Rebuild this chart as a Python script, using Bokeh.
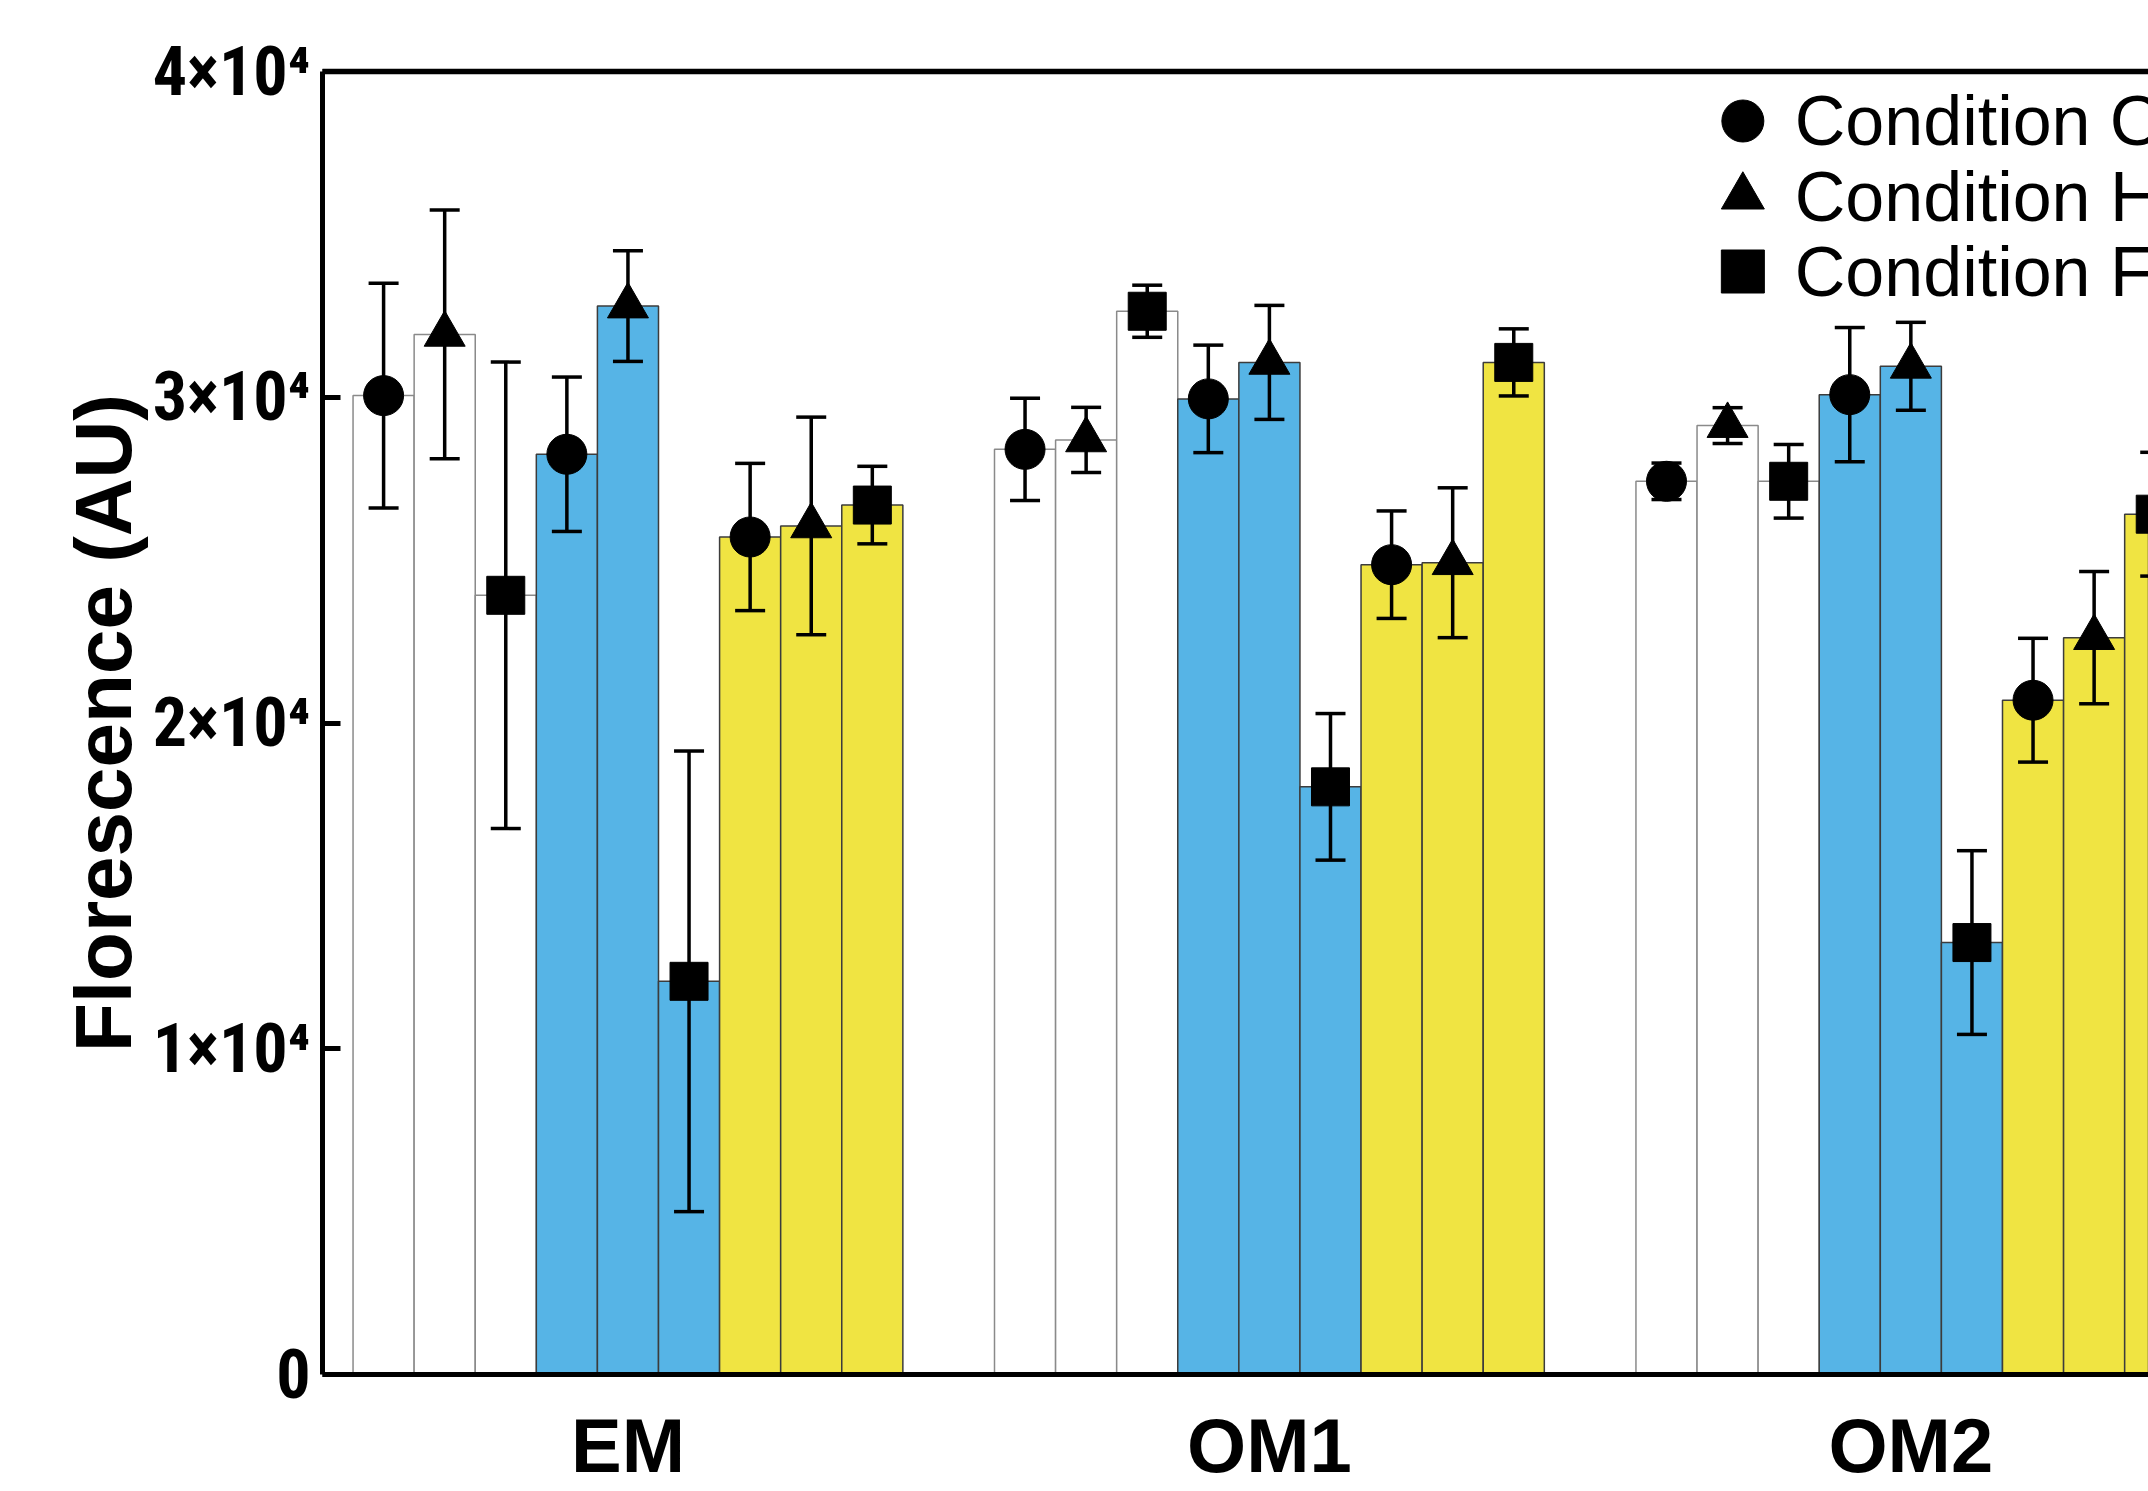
from bokeh.plotting import figure
from bokeh.models import Range1d, FixedTicker, LinearAxis, ColumnDataSource
from bokeh.core.properties import value
from bokeh.embed import file_html
from bokeh.resources import INLINE

# ---------------- data ----------------
groups = ["EM", "OM1", "OM2"]
conditions = ["Condition O", "Condition H", "Condition F"]
condition_markers = ["circle", "triangle", "square"]

# bars in each group: white (O, H, F), blue (O, H, F), yellow (O, H, F)
em_mean = [30050, 31930, 23920, 28250, 32800, 12070, 25710, 26050, 26690]
em_err = [3450, 3820, 7160, 2370, 1700, 7070, 2260, 3340, 1190]
om1_mean = [28400, 28690, 32640, 29950, 31070, 18040, 24860, 24920, 31070]
om1_err = [1570, 1000, 800, 1650, 1750, 2250, 1650, 2300, 1030]
om2_mean = [27420, 29130, 27420, 30080, 30950, 13260, 20700, 22620, 26410]
om2_err = [560, 550, 1130, 2060, 1350, 2820, 1900, 2030, 1900]

y_ticks = [0, 10000, 20000, 30000, 40000]
y_tick_labels = ["0", "1×10⁴", "2×10⁴", "3×10⁴", "4×10⁴"]

# ---------------- styles ----------------
fill_colors = ["#FFFFFF", "#56B4E6", "#F0E442"]
line_colors = ["#8A8A8A", "#3C3C3C", "#3C3C3C"]
marker_sizes = [40, 41, 38]
legend_sizes = [42, 43, 43]
GROUP_STEP = 10.5
X_END = 29.89

means = [em_mean, om1_mean, om2_mean]
errs = [em_err, om1_err, om2_err]

xs, tops, uppers, lowers, fills, lines, mks, msz = [], [], [], [], [], [], [], []
for g in range(len(groups)):
    for t in range(3):
        for c in range(3):
            k = t * 3 + c
            xs.append(1 + g * GROUP_STEP + k)
            m = means[g][k]
            e = errs[g][k]
            tops.append(m)
            uppers.append(m + e)
            lowers.append(m - e)
            fills.append(fill_colors[t])
            lines.append(line_colors[t])
            mks.append(condition_markers[c])
            msz.append(marker_sizes[c])

src = ColumnDataSource(dict(x=xs, top=tops, upper=uppers, lower=lowers,
                            fill=fills, line=lines, marker=mks, size=msz))

group_centers = [1 + g * GROUP_STEP + 4 for g in range(len(groups))]

p = figure(width=2148, height=1491, x_range=Range1d(0, X_END), y_range=Range1d(0, 40000),
           output_backend="svg", toolbar_location=None,
           min_border_left=322, min_border_top=71, min_border_bottom=117, min_border_right=0)
p.grid.visible = False
p.outline_line_color = None
p.background_fill_color = "white"
p.border_fill_color = "white"

p.vbar(x="x", top="top", bottom=0, width=1.0, fill_color="fill", line_color="line",
       line_width=1.5, source=src)
p.segment(x0="x", y0="lower", x1="x", y1="upper", line_color="black", line_width=3.5, source=src)
p.scatter(x="x", y="upper", marker="dash", size=30, line_color="black", line_width=3.5, source=src)
p.scatter(x="x", y="lower", marker="dash", size=30, line_color="black", line_width=3.5, source=src)
p.scatter(x="x", y="top", marker="marker", size="size", fill_color="black", line_color="black",
          source=src)

# legend (manual)
leg = ColumnDataSource(dict(x=[23.25] * 3, y=[38480, 36160, 33860], marker=condition_markers,
                            size=legend_sizes, label=conditions, tx=[24.1] * 3))
p.scatter(x="x", y="y", marker="marker", size="size", fill_color="black", line_color="black", source=leg)
p.text(x="tx", y="y", text="label", text_font=value("Liberation Sans"), text_font_size="70px",
       text_baseline="middle", text_align="left", text_color="black", source=leg)

# y axis
yax = p.yaxis[0]
yax.ticker = FixedTicker(ticks=y_ticks)
yax.major_label_overrides = dict(zip(y_ticks, y_tick_labels))
yax.major_label_text_font = "'Roboto Condensed', 'Liberation Sans Narrow', 'Liberation Sans'"
yax.major_label_text_font_style = "bold"
yax.major_label_text_font_size = "68px"
yax.major_label_text_color = "black"
yax.major_label_standoff = 12
yax.major_tick_in = 18
yax.major_tick_out = 0
yax.major_tick_line_width = 5
yax.minor_tick_line_color = None
yax.axis_line_width = 5
yax.axis_label = "Florescence (AU)"
yax.axis_label_text_font = "Liberation Sans"
yax.axis_label_text_font_style = "bold"
yax.axis_label_text_font_size = "80px"
yax.axis_label_text_color = "black"
yax.axis_label_standoff = 2

# x axis with the group names
xax = p.xaxis[0]
xax.ticker = FixedTicker(ticks=group_centers)
xax.major_label_overrides = dict(zip(group_centers, groups))
xax.major_label_text_font = "Liberation Sans"
xax.major_label_text_font_style = "bold"
xax.major_label_text_font_size = "76px"
xax.major_label_text_color = "black"
xax.major_label_standoff = 28
xax.major_tick_line_color = None
xax.major_tick_in = 0
xax.major_tick_out = 0
xax.minor_tick_line_color = None
xax.axis_line_width = 5

top_ax = LinearAxis(ticker=FixedTicker(ticks=[]), axis_line_width=5.5,
                    major_tick_line_color=None, minor_tick_line_color=None,
                    major_label_text_font_size="0px")
p.add_layout(top_ax, "above")

open("out.html", "w").write(file_html(p, INLINE))
